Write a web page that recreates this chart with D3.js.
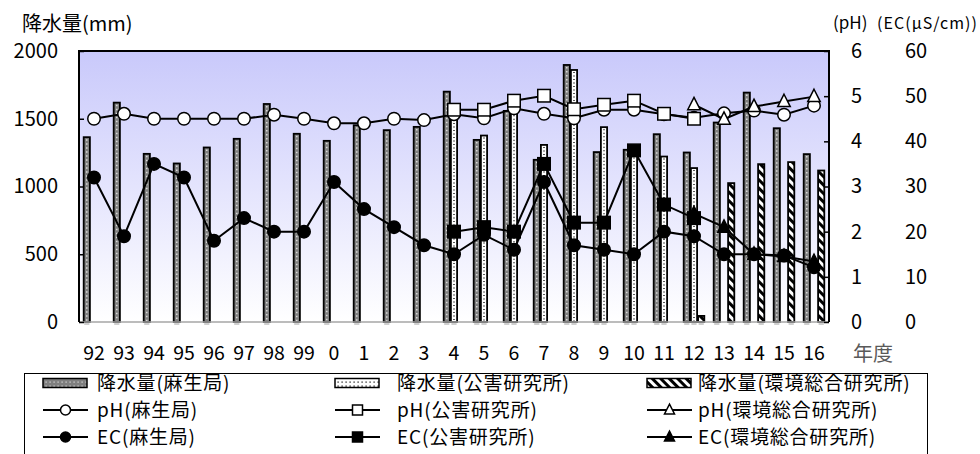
<!DOCTYPE html>
<html><head><meta charset="utf-8">
<script src="https://cdn.jsdelivr.net/npm/d3@7"></script>
<style>
body{margin:0;background:#fff;}
text{font-family:"Noto Sans CJK JP","Noto Sans",sans-serif;}
</style>
</head><body>
<svg id="c" width="980" height="454"></svg>
<script>
const years = ["92","93","94","95","96","97","98","99","0","1","2","3","4","5","6","7","8","9","10","11","12","13","14","15","16"];
const rainAso    = [1364,1619,1241,1170,1288,1352,1609,1389,1337,1452,1416,1440,1700,1344,1558,1197,1897,1254,1271,1386,1251,1472,1693,1430,1239];
const rainKogai  = [null,null,null,null,null,null,null,null,null,null,null,null,1560,1376,1540,1307,1860,1438,1280,1221,1136,null,null,null,null];
const rainKankyo = [null,null,null,null,null,null,null,null,null,null,null,null,null,null,null,null,null,null,null,null,45,1025,1165,1180,1118];
const phAso    = [4.50,4.61,4.50,4.50,4.50,4.50,4.59,4.50,4.40,4.40,4.50,4.47,4.60,4.51,4.73,4.61,4.51,4.70,4.70,4.60,4.52,4.62,4.68,4.59,4.79];
const phKogai  = [null,null,null,null,null,null,null,null,null,null,null,null,4.70,4.70,4.90,5.01,4.71,4.81,4.90,4.61,4.50,null,null,null,null];
const phKankyo = [null,null,null,null,null,null,null,null,null,null,null,null,null,null,null,null,null,null,null,null,4.81,4.49,4.77,4.88,4.99];
const ecAso    = [32,19,35,32,18,23,20,20,31,25,21,17,15,19.3,16,31,17,16,15,20,19,15,15,14.7,12.1];
const ecKogai  = [null,null,null,null,null,null,null,null,null,null,null,null,20,21,20,35,22,22,38,26,23,null,null,null,null];
const ecKankyo = [null,null,null,null,null,null,null,null,null,null,null,null,null,null,null,null,null,null,null,null,24,21,15,14.5,13.4];
const rainTicks = [0,500,1000,1500,2000];
const phTicks = [0,1,2,3,4,5,6];
const ecTicks = [0,10,20,30,40,50,60];
const legendLabels = ["降水量(麻生局)","降水量(公害研究所)","降水量(環境総合研究所)",
                      "pH(麻生局)","pH(公害研究所)","pH(環境総合研究所)",
                      "EC(麻生局)","EC(公害研究所)","EC(環境総合研究所)"];

const svg = d3.select("#c");
const X0=79, X1=829, Y0=51, Y1=322;
const x = d3.scaleBand().domain(years).range([X0,X1]);
const xs = d3.scaleBand().domain(["aso","kogai","kankyo"]).range([-10.8,10.8]);
const yR = d3.scaleLinear().domain([0,2000]).range([Y1,Y0]);
const yP = d3.scaleLinear().domain([0,6]).range([Y1,Y0]);
const yE = d3.scaleLinear().domain([0,60]).range([Y1,Y0]);

const defs = svg.append("defs");
const grad = defs.append("linearGradient").attr("id","bg").attr("x1",0).attr("y1",0).attr("x2",0).attr("y2",1);
grad.append("stop").attr("offset","0%").attr("stop-color","#c9c9fb");
grad.append("stop").attr("offset","100%").attr("stop-color","#ffffff");

const pA = defs.append("pattern").attr("id","pAso").attr("patternUnits","userSpaceOnUse").attr("width",4).attr("height",4);
pA.append("rect").attr("width",4).attr("height",4).attr("fill","#7f7f7f");
pA.append("rect").attr("x",1.5).attr("y",1.5).attr("width",1.2).attr("height",1.2).attr("fill","#ddd");
const pK = defs.append("pattern").attr("id","pKogai").attr("patternUnits","userSpaceOnUse").attr("width",4).attr("height",4);
pK.append("rect").attr("width",4).attr("height",4).attr("fill","#fff");
pK.append("rect").attr("x",1.5).attr("y",1.5).attr("width",1.2).attr("height",1.2).attr("fill","#000");
const pE = defs.append("pattern").attr("id","pKankyo").attr("patternUnits","userSpaceOnUse").attr("width",6).attr("height",6).attr("patternTransform","rotate(-45)");
pE.append("rect").attr("width",6).attr("height",6).attr("fill","#fff");
pE.append("rect").attr("width",3).attr("height",6).attr("fill","#000");

// plot background
svg.append("rect").attr("x",X0).attr("y",Y0).attr("width",X1-X0).attr("height",Y1-Y0).attr("fill","url(#bg)");

// bars
const barSeries = [
  {key:"aso", vals:rainAso, fill:"#7f7f7f", dot:"#e8e8e8", dash:"1.5,2.5"},
  {key:"kogai", vals:rainKogai, fill:"#ffffff", dot:"#000", dash:"1,2.5"},
  {key:"kankyo", vals:rainKankyo, fill:"url(#pKankyo)", dot:null}
];
const bw = xs.bandwidth();
barSeries.forEach(s=>{
  const data = years.map((y,i)=>({y, v:s.vals[i]})).filter(d=>d.v!=null);
  const g = svg.append("g");
  g.selectAll("rect.sh").data(data).join("rect")
    .attr("x",d=>x(d.y)+x.bandwidth()/2+xs(s.key)+1).attr("y",Y1+1).attr("width",bw-2).attr("height",2)
    .attr("fill","#cfcfcf");
  g.selectAll("rect.b").data(data).join("rect")
    .attr("x",d=>x(d.y)+x.bandwidth()/2+xs(s.key)+0.5).attr("y",d=>yR(d.v))
    .attr("width",bw-1).attr("height",d=>Y1-yR(d.v))
    .attr("fill",s.fill).attr("stroke","#000").attr("stroke-width",1.8);
  if(s.dot){
    g.selectAll("line").data(data).join("line")
      .attr("x1",d=>x(d.y)+x.bandwidth()/2+xs(s.key)+bw/2).attr("x2",d=>x(d.y)+x.bandwidth()/2+xs(s.key)+bw/2)
      .attr("y1",d=>yR(d.v)+2).attr("y2",Y1-1)
      .attr("stroke",s.dot).attr("stroke-width",1.3).attr("stroke-dasharray",s.dash);
  }
});

// plot border (top, left, right) and base line
svg.append("line").attr("x1",X0).attr("x2",X1).attr("y1",Y1).attr("y2",Y1).attr("stroke","#a6a6a6").attr("stroke-width",1.5);
svg.append("path").attr("d",`M${X0},${Y1}V${Y0}H${X1}V${Y1}`).attr("fill","none").attr("stroke","#000").attr("stroke-width",2);

// axes
const fmt = d3.format("d");
const axL = svg.append("g").attr("transform",`translate(${X0},0)`)
  .call(d3.axisLeft(yR).tickValues(rainTicks).tickFormat(fmt).tickSizeInner(-5).tickSizeOuter(0).tickPadding(21));
const axP = svg.append("g").attr("transform",`translate(${X1},0)`)
  .call(d3.axisRight(yP).tickValues(phTicks).tickFormat(fmt).tickSizeInner(-5).tickSizeOuter(0).tickPadding(22));
const axE = svg.append("g").attr("transform",`translate(${X1},0)`)
  .call(d3.axisRight(yE).tickValues(ecTicks).tickFormat(fmt).tickSize(0).tickPadding(76));
const axB = svg.append("g").attr("transform",`translate(0,${Y1})`)
  .call(d3.axisBottom(x).tickSize(0).tickPadding(24));
[[axL,20],[axP,20],[axE,20],[axB,19.5]].forEach(([a,fs])=>{
  a.select(".domain").remove();
  a.selectAll("line").attr("stroke","#000").attr("stroke-width",1.5);
  a.selectAll("text").attr("font-size",fs).attr("fill","#000").style("font-family",'"Noto Sans CJK JP",sans-serif');
});

// titles
svg.append("text").attr("x",22).attr("y",31).attr("font-size",20).text("降水量(mm)");
svg.append("text").attr("x",833).attr("y",29).attr("font-size",17).text("(pH)");
svg.append("text").attr("x",877).attr("y",29).attr("font-size",16).attr("textLength",100).attr("lengthAdjust","spacing").text("(EC(μS/cm))");
svg.append("text").attr("x",853).attr("y",361).attr("font-size",20).attr("fill","#595959").text("年度");

// lines & markers
function marker(g, type, cx, cy, s){
  if(type==="circle"||type==="fcircle"){
    g.append("circle").attr("cx",cx).attr("cy",cy).attr("r",s/2)
      .attr("fill",type==="circle"?"#fff":"#000").attr("stroke","#000").attr("stroke-width",1.5);
  } else if(type==="square"||type==="fsquare"){
    g.append("rect").attr("x",cx-s/2).attr("y",cy-s/2).attr("width",s).attr("height",s)
      .attr("fill",type==="square"?"#fff":"#000").attr("stroke","#000").attr("stroke-width",1.5);
  } else {
    const h=s*0.95;
    g.append("path").attr("d",`M${cx},${cy-h*0.62}L${cx+s/2},${cy+h*0.42}L${cx-s/2},${cy+h*0.42}Z`)
      .attr("fill",type==="tri"?"#fff":"#000").attr("stroke","#000").attr("stroke-width",1.5);
  }
}
const lineSeries = [
  {vals:phAso, sc:yP, m:"circle"},
  {vals:phKogai, sc:yP, m:"square"},
  {vals:phKankyo, sc:yP, m:"tri"},
  {vals:ecAso, sc:yE, m:"fcircle"},
  {vals:ecKogai, sc:yE, m:"fsquare"},
  {vals:ecKankyo, sc:yE, m:"ftri"}
];
lineSeries.forEach(s=>{
  const data = years.map((y,i)=>({y, v:s.vals[i]}));
  const cx = d=>x(d.y)+x.bandwidth()/2;
  const line = d3.line().defined(d=>d.v!=null).x(cx).y(d=>s.sc(d.v));
  const g = svg.append("g");
  g.append("path").datum(data).attr("d",line).attr("fill","none").attr("stroke","#000").attr("stroke-width",2);
  data.filter(d=>d.v!=null).forEach(d=>marker(g,s.m,cx(d),s.sc(d.v),12.5));
});

// legend
const lg = svg.append("g");
lg.append("rect").attr("x",24.5).attr("y",373.5).attr("width",903).attr("height",90).attr("fill","#fff").attr("stroke","#000").attr("stroke-width",1);
const colX = [43,335,647];
const textX = [97,397,698];
const rowY = [383,410,437];
const fills = ["url(#pAso)","url(#pKogai)","url(#pKankyo)"];
const mk = [["circle","square","tri"],["fcircle","fsquare","ftri"]];
legendLabels.forEach((lab,i)=>{
  const r = Math.floor(i/3), c = i%3;
  const sx = colX[c], sy = rowY[r];
  if(r===0){
    lg.append("rect").attr("x",sx).attr("y",sy-4.5).attr("width",44).attr("height",9)
      .attr("fill",fills[c]).attr("stroke","#000").attr("stroke-width",1.5);
  } else {
    lg.append("line").attr("x1",sx).attr("x2",sx+45).attr("y1",sy).attr("y2",sy).attr("stroke","#000").attr("stroke-width",2);
    marker(lg, mk[r-1][c], sx+22.5, sy, 10);
  }
  lg.append("text").attr("x",textX[c]).attr("y",sy+7).attr("font-size",19).attr("letter-spacing",0.8).text(lab);
});
</script>
</body></html>
